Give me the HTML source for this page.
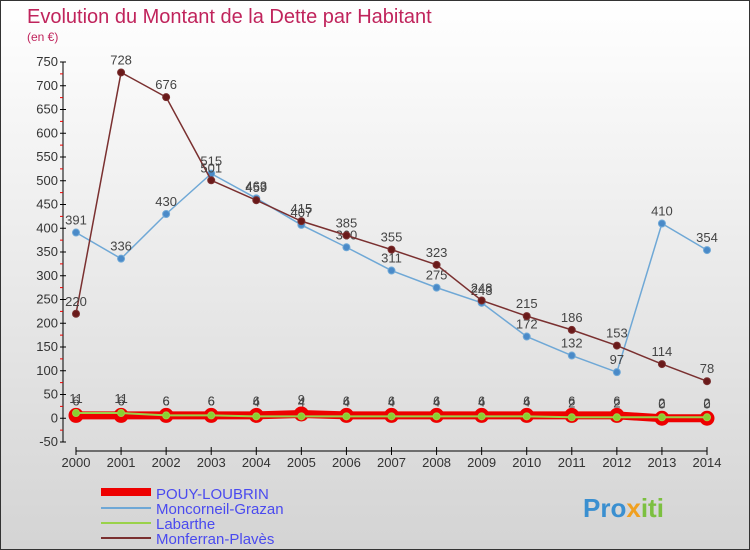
<!DOCTYPE html>
<html><head><meta charset="utf-8"><style>
body{margin:0}
#c{width:748px;height:548px;border:1px solid #333;position:relative;background:linear-gradient(#ffffff,#d4d4d4);font-family:"Liberation Sans",sans-serif;overflow:hidden}
</style></head><body>
<div id="c">
<svg id="s" width="748" height="548" xmlns="http://www.w3.org/2000/svg">
<text x="26" y="22" font-size="20" fill="#c0245c" font-family="Liberation Sans,sans-serif">Evolution du Montant de la Dette par Habitant</text>
<text x="26" y="40" font-size="12" fill="#c0245c">(en €)</text>
<g id="axes"></g><g id="series"></g>
<g>
<rect x="100" y="487" width="50" height="8" fill="#ee0000"/>
<text x="155" y="498" font-size="15" fill="#4a4aef">POUY-LOUBRIN</text>
<line x1="100" y1="507" x2="150" y2="507" stroke="#6fa8d6" stroke-width="2"/>
<text x="155" y="513" font-size="15" fill="#4a4aef">Moncorneil-Grazan</text>
<line x1="100" y1="522" x2="150" y2="522" stroke="#9ad24a" stroke-width="2"/>
<text x="155" y="528" font-size="15" fill="#4a4aef">Labarthe</text>
<line x1="100" y1="537" x2="150" y2="537" stroke="#7a3030" stroke-width="2"/>
<text x="155" y="543" font-size="15" fill="#4a4aef">Monferran-Plavès</text>
</g>
<text x="582" y="516" font-size="26" font-weight="bold" fill="#3a8fd0">Pro<tspan fill="#f0a020">x</tspan><tspan fill="#7cc040">iti</tspan></text>
</svg></div>
<script>
const years=[2000,2001,2002,2003,2004,2005,2006,2007,2008,2009,2010,2011,2012,2013,2014];
const yTicks=[-50,0,50,100,150,200,250,300,350,400,450,500,550,600,650,700,750];
const pouy=[6,6,6,6,6,9,6,6,6,6,6,6,6,0,0];
const labarthe=[11,11,6,6,4,4,4,4,4,4,4,2,2,2,2];
const moncorneil=[391,336,430,515,463,407,360,311,275,243,172,132,97,410,354];
const monferran=[220,728,676,501,459,415,385,355,323,248,215,186,153,114,78];
const NS="http://www.w3.org/2000/svg";
function X(i){return 75+i*(706-75)/14;}
function Y(v){return 441-(v+50)*380/800;}
function mk(t,a,p){const e=document.createElementNS(NS,t);for(const k in a)e.setAttribute(k,a[k]);p.appendChild(e);return e;}
const ax=document.getElementById('axes');
let l=mk('line',{x1:62,y1:Y(750),x2:62,y2:Y(-50),stroke:'#000'},ax);


l=mk('line',{x1:75,y1:450,x2:706,y2:450,stroke:'#000'},ax);


yTicks.forEach(v=>{
 mk('line',{x1:59,x2:65,y1:Y(v),y2:Y(v),stroke:'#000'},ax);
 if(v<750) mk('line',{x1:59,x2:62,y1:Y(v+25),y2:Y(v+25),stroke:'#e00'},ax);
 const t=mk('text',{x:57,y:Y(v)+4,'font-size':13,fill:'#333','text-anchor':'end'},ax);t.textContent=v;
 
 
});
years.forEach((y,i)=>{
 mk('line',{x1:X(i),x2:X(i),y1:446,y2:454,stroke:'#000'},ax);
 const t=mk('text',{x:X(i),y:466,'font-size':13,fill:'#333','text-anchor':'middle'},ax);t.textContent=y;
 
 
});
const sg=document.getElementById('series');
function series(name,vals,color,w,r,dot,labDy){
 const g=mk('g',{},sg);
 
 
 mk('polyline',{points:vals.map((v,i)=>X(i)+','+Y(v)).join(' '),fill:'none',stroke:color,'stroke-width':w},g);
 vals.forEach((v,i)=>{
  const c=mk('circle',{cx:X(i),cy:Y(v),r:r,fill:dot,stroke:color,'stroke-width':w>3?3:1},g);
  
  
  const t=mk('text',{x:X(i),y:Y(v)-labDy,'font-size':13,fill:'#444','text-anchor':'middle'},g);t.textContent=v;
 });
}
series('series-pouy',pouy,'#ee0000',8,6,'#ee0000',10);
series('series-labarthe',labarthe,'#9ad24a',2,3.5,'#8ad030',10);
series('series-moncorneil',moncorneil,'#6fa8d6',1.5,3.5,'#4a8ac8',8);
series('series-monferran',monferran,'#7a3030',1.5,3.5,'#6a1a1a',8);
</script>
</body></html>
